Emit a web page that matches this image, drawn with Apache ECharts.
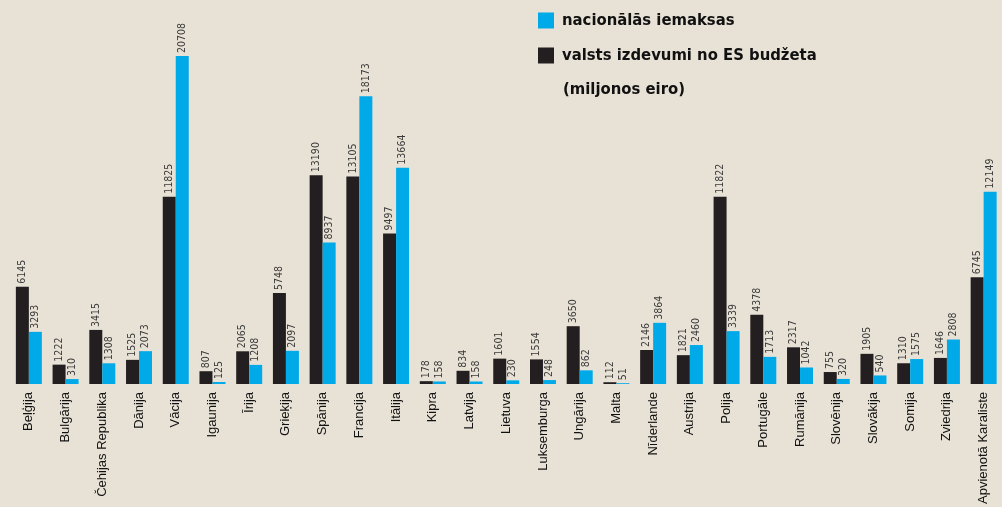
<!DOCTYPE html>
<html>
<head>
<meta charset="utf-8">
<script src="https://cdn.jsdelivr.net/npm/echarts@6/dist/echarts.min.js"></script>
<style>
  html, body { margin: 0; padding: 0; background: #e8e2d6; }
  #chart { width: 1002px; height: 507px; }
</style>
</head>
<body>
<div id="chart"></div>
<script>
var countries = ['Beļģija', 'Bulgārija', 'Čehijas Republika', 'Dānija', 'Vācija', 'Igaunija', 'Īrija',
    'Grieķija', 'Spānija', 'Francija', 'Itālija', 'Kipra', 'Latvija', 'Lietuva', 'Luksemburga',
    'Ungārija', 'Malta', 'Nīderlande', 'Austrija', 'Polija', 'Portugāle', 'Rumānija', 'Slovēnija',
    'Slovākija', 'Somija', 'Zviedrija', 'Apvienotā Karaliste'];
// valsts izdevumi no ES budžeta
var izdevumi = [6145, 1222, 3415, 1525, 11825, 807, 2065, 5748, 13190, 13105, 9497, 178, 834, 1601,
    1554, 3650, 112, 2146, 1821, 11822, 4378, 2317, 755, 1905, 1310, 1646, 6745];
// nacionālās iemaksas
var iemaksas = [3293, 310, 1308, 2073, 20708, 125, 1208, 2097, 8937, 18173, 13664, 158, 158, 230,
    248, 862, 51, 3864, 2460, 3339, 1713, 1042, 320, 540, 1575, 2808, 12149];

var myChart = echarts.init(document.getElementById('chart'));

var valueLabel = {
    show: true,
    position: 'top',
    rotate: 90,
    align: 'left',
    verticalAlign: 'middle',
    distance: 3,
    fontFamily: 'DejaVu Sans Condensed',
    fontSize: 10.5,
    color: '#3a3a3a'
};

option = {
    backgroundColor: '#e8e2d6',
    animation: false,
    title: {
        text: '(miljonos eiro)',
        left: 558,
        top: 76,
        textStyle: {
            fontFamily: 'DejaVu Sans Condensed',
            fontWeight: 'bold',
            fontSize: 16.5,
            color: '#111'
        }
    },
    legend: {
        orient: 'vertical',
        left: 533,
        top: 7,
        itemWidth: 16,
        itemHeight: 16,
        itemGap: 18,
        icon: 'rect',
        data: ['nacionālās iemaksas', 'valsts izdevumi no ES budžeta'],
        textStyle: {
            fontFamily: 'DejaVu Sans Condensed',
            fontWeight: 'bold',
            fontSize: 16.5,
            lineHeight: 16,
            color: '#111',
            padding: [0, 0, 0, 3]
        }
    },
    grid: {
        left: 10.5,
        width: 999,
        top: 4,
        bottom: 123
    },
    xAxis: {
        type: 'category',
        data: countries,
        axisLine: { show: false },
        axisTick: { show: false },
        axisLabel: {
            rotate: 90,
            interval: 0,
            margin: 8,
            fontFamily: 'Liberation Sans',
            fontSize: 13,
            color: '#111',
            padding: [9, 0, 0, 0]
        }
    },
    yAxis: {
        type: 'value',
        min: 0,
        max: 24000,
        show: false,
        splitLine: { show: false }
    },
    series: [
        {
            name: 'valsts izdevumi no ES budžeta',
            type: 'bar',
            barWidth: 13,
            barGap: '0%',
            itemStyle: { color: '#231f20' },
            label: valueLabel,
            data: izdevumi
        },
        {
            name: 'nacionālās iemaksas',
            type: 'bar',
            barWidth: 13,
            barGap: '0%',
            itemStyle: { color: '#00a9e8' },
            label: valueLabel,
            data: iemaksas
        }
    ]
};
myChart.setOption(option, true);
</script>
</body>
</html>
